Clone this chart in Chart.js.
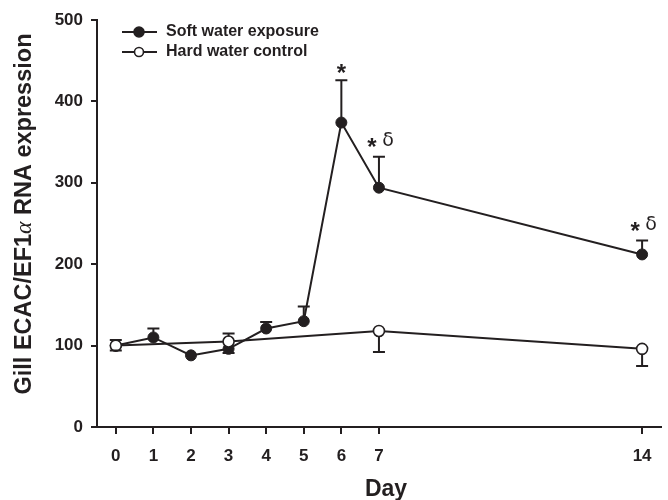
<!DOCTYPE html>
<html><head><meta charset="utf-8">
<script src="https://cdn.jsdelivr.net/npm/chart.js@4.4.0/dist/chart.umd.min.js"></script>
<style>html,body{margin:0;padding:0;background:#fff}#wrap{width:668px;height:500px;position:relative}</style>
</head><body><div id="wrap"><canvas id="c" width="668" height="500"></canvas></div>
<script>
const tickDays = [0,1,2,3,4,5,6,7,14];
const yTicks = [0,100,200,300,400,500];
const softDays = [0,1,2,3,4,5,6,7,14];
const softMean = [100,110,88,96,121,130,374,294,212];
const softErrUp = [0,11,0,0,8,18,52,38,17];
const softErrDown = [0,0,0,5,0,0,0,0,0];
const softMarks = ['','','','','','','*','*δ','*δ'];
const hardDays = [0,3,7,14];
const hardMean = [100,105,118,96];
const hardErrUp = [7,10,0,0];
const hardErrDown = [6,0,26,21];
const seriesNames = ['Soft water exposure','Hard water control'];
const xTitle = 'Day';

const INK = '#231f20';
const SANS = '"Liberation Sans", Arial, Helvetica, sans-serif';
const toPts = (xs, ys) => xs.map((x,i)=>({x:x,y:ys[i]}));

const errPlugin = {
  id:'err',
  afterDatasetsDraw(chart){
    const ctx = chart.ctx, xs = chart.scales.x, ys = chart.scales.y;
    const sets = [[softDays,softMean,softErrUp,softErrDown],[hardDays,hardMean,hardErrUp,hardErrDown]];
    ctx.save();
    ctx.strokeStyle = INK; ctx.lineWidth = 2;
    sets.forEach(([d,m,u,l])=>{
      d.forEach((day,i)=>{
        const px = xs.getPixelForValue(day);
        const py = ys.getPixelForValue(m[i]);
        [[u[i],-1],[l[i],1]].forEach(([e,s])=>{
          if(!e) return;
          const ey = ys.getPixelForValue(m[i] - s*e);
          ctx.beginPath();
          ctx.moveTo(px, py + s*5); ctx.lineTo(px, ey);
          ctx.moveTo(px-6, ey); ctx.lineTo(px+6, ey);
          ctx.stroke();
        });
      });
    });
    // significance marks
    ctx.fillStyle = INK; ctx.textBaseline='alphabetic';
    softDays.forEach((day,i)=>{
      const mk = softMarks[i]; if(!mk) return;
      const px = xs.getPixelForValue(day);
      const ty = ys.getPixelForValue(softMean[i] + softErrUp[i]);
      ctx.font = 'bold 24px ' + SANS;
      ctx.textAlign='center';
      if(mk === '*'){
        ctx.fillText('*', px, ty + 1);
      } else {
        ctx.fillText('*', px - 7, ty - 2);
        ctx.font = '19px "DejaVu Sans", sans-serif';
        ctx.fillText('δ', px + 9, ty - 11);
      }
    });
    // legend
    const lx = 122, items = [[32,true],[52,false]];
    items.forEach(([y,filled],k)=>{
      ctx.strokeStyle = INK;
      ctx.beginPath(); ctx.lineWidth=2; ctx.moveTo(lx,y); ctx.lineTo(lx+35,y); ctx.stroke();
      ctx.beginPath(); ctx.arc(lx+17,y,filled?5:4.5,0,Math.PI*2);
      ctx.fillStyle = filled?INK:'#fff'; ctx.fill(); ctx.lineWidth=1.6; ctx.stroke();
      ctx.fillStyle = INK;
      ctx.font = 'bold 16px ' + SANS;
      ctx.textAlign='left'; ctx.textBaseline='middle';
      ctx.fillText(seriesNames[k], 166, y);
    });
    ctx.restore();
  }
};

const titlePlugin = {
  id:'titles',
  afterDraw(chart){
    const ctx = chart.ctx;
    ctx.save();
    ctx.fillStyle = INK;
    // x title
    ctx.font = 'bold 23px ' + SANS; ctx.textAlign='center'; ctx.textBaseline='alphabetic';
    ctx.fillText(xTitle, 386, 496);
    // y title
    ctx.translate(25, 214); ctx.rotate(-Math.PI/2);
    ctx.textBaseline='middle';
    const f1 = 'bold 23.5px ' + SANS;
    const f2 = 'italic 23.5px "Liberation Serif", serif';
    const parts = [['Gill ECAC/EF1',f1],['α',f2],[' RNA expression',f1]];
    let w=0; parts.forEach(([t,f])=>{ctx.font=f; w+=ctx.measureText(t).width;});
    let x=-w/2;
    parts.forEach(([t,f])=>{ctx.font=f; ctx.textAlign='left'; ctx.fillText(t,x,0); x+=ctx.measureText(t).width;});
    ctx.restore();
  }
};

new Chart(document.getElementById('c'),{
  type:'line',
  data:{datasets:[
    {label:seriesNames[0], data:toPts(softDays,softMean), borderColor:INK, borderWidth:2,
     pointRadius:5.5, pointBackgroundColor:INK, pointBorderColor:INK, pointBorderWidth:1, order:1, tension:0},
    {label:seriesNames[1], data:toPts(hardDays,hardMean), borderColor:INK, borderWidth:2,
     pointRadius:5.5, pointBackgroundColor:'#fff', pointBorderColor:INK, pointBorderWidth:1.6, order:0, tension:0}
  ]},
  options:{
    responsive:false, animation:false,
    layout:{padding:{top:20,right:5,bottom:0,left:0}},
    plugins:{legend:{display:false},tooltip:{enabled:false}},
    scales:{
      x:{type:'linear', min:-0.5, max:14.5,
        afterBuildTicks(s){ s.ticks = tickDays.map(v=>({value:v})); },
        afterFit(s){ s.height = 73; },
        grid:{drawOnChartArea:false, drawTicks:true, tickLength:7, color:INK, lineWidth:2},
        border:{display:true, color:INK, width:2},
        ticks:{color:INK, font:{family:SANS, size:17, weight:'bold'}, padding:12, maxRotation:0, autoSkip:false},
        title:{display:false}
      },
      y:{min:0, max:500,
        afterBuildTicks(s){ s.ticks = yTicks.map(v=>({value:v})); },
        afterFit(s){ s.width = 97; },
        grid:{drawOnChartArea:false, drawTicks:true, tickLength:6, color:INK, lineWidth:2},
        border:{display:true, color:INK, width:2},
        ticks:{color:INK, font:{family:SANS, size:17, weight:'bold'}, padding:8}
      }
    }
  },
  plugins:[errPlugin, titlePlugin]
});
</script></body></html>
